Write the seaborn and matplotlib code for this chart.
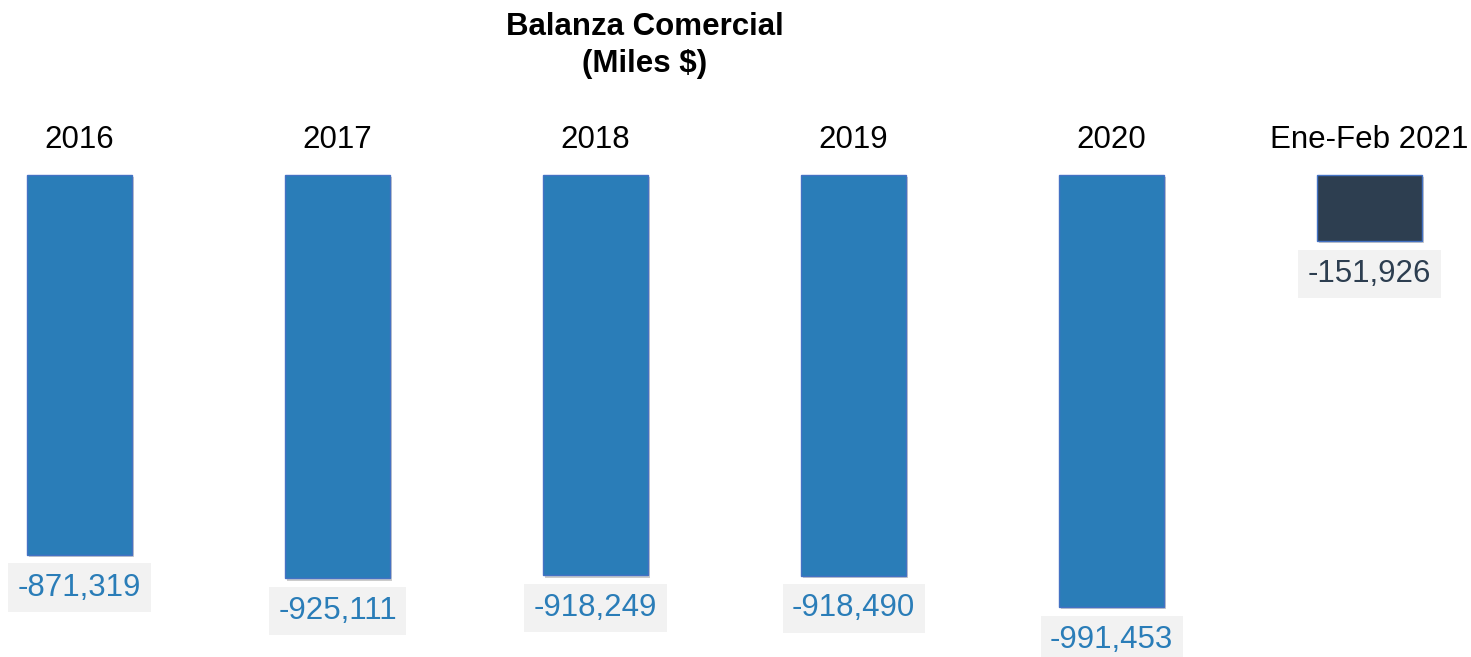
import matplotlib
matplotlib.use("Agg")
import matplotlib.pyplot as plt
import matplotlib.patheffects as pe
import matplotlib.transforms as mtransforms
import seaborn as sns
import pandas as pd

categories = ["2016", "2017", "2018", "2019", "2020", "Ene-Feb 2021"]
values = [-871319, -925111, -918249, -918490, -991453, -151926]
label_texts = ["-871,319", "-925,111", "-918,249", "-918,490", "-991,453", "-151,926"]
bar_colors = ["#2A7DB8", "#2A7DB8", "#2A7DB8", "#2A7DB8", "#2A7DB8", "#2D3E50"]
text_colors = ["#2A7DB8", "#2A7DB8", "#2A7DB8", "#2A7DB8", "#2A7DB8", "#2D3E50"]

sns.set_theme(style="white")
plt.rcParams["font.family"] = ["Liberation Sans", "DejaVu Sans"]

W, H = 1471, 657
fig = plt.figure(figsize=(W / 100, H / 100), dpi=100)
ax = fig.add_axes([0, 0, 1, 1])

df = pd.DataFrame({"cat": categories, "val": values})
sns.barplot(data=df, x="cat", y="val", hue="cat", palette=bar_colors,
            width=0.407, legend=False, ax=ax, edgecolor="#4472C4",
            linewidth=1.0, saturation=1)

for p in ax.patches:
    p.set_path_effects([pe.SimplePatchShadow(offset=(1.5, -1.5), shadow_rgbFace="#808080", alpha=0.4),
                        pe.Normal()])

# scale: bar top at y=175px, 380px per 871319
scale = 380 / 871319
ymax = 175 / scale
ymin = -(H - 175) / scale
ax.set_ylim(ymin, ymax)
spacing = 258
ax.set_xlim(-79.5 / spacing, (W - 79.5) / spacing)
ax.axis("off")

trans = mtransforms.blended_transform_factory(ax.transData, ax.transAxes)
for i, c in enumerate(categories):
    ax.text(i, 1 - 148 / H, c, transform=trans, ha="center", va="baseline",
            fontsize=22.5, color="black")

for i, (v, t) in enumerate(zip(values, label_texts)):
    ax.annotate(t, xy=(i, v), xytext=(0, -23.5), textcoords="offset points",
                ha="center", va="center", fontsize=22.5, color=text_colors[i],
                bbox=dict(boxstyle="square,pad=0.3", fc="#F2F2F2", ec="none"))

fig.text(645 / W, 1 - 35 / H, "Balanza Comercial", ha="center", va="baseline",
         fontsize=22.5, fontweight="bold", color="black")
fig.text(645 / W, 1 - 72 / H, "(Miles $)", ha="center", va="baseline",
         fontsize=22.5, fontweight="bold", color="black")

fig.savefig("out.png", dpi=100)
